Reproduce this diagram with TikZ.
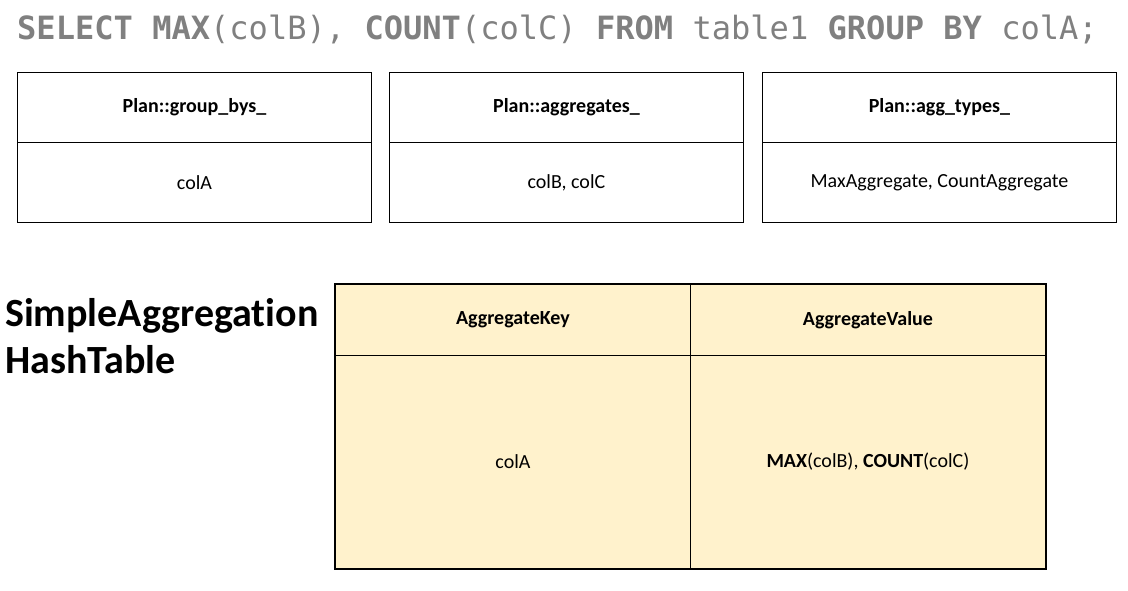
\documentclass[tikz,border=0pt]{standalone}
\usepackage{fontspec}
\setmainfont[Ligatures=NoCommon]{Carlito}
\newfontfamily\sqlfont{DejaVu Sans Mono}
\begin{document}
\begin{tikzpicture}[x=1pt,y=-1pt,
  cell/.style={draw=black,line width=0.9pt,minimum width=354pt,inner sep=0pt,anchor=north west},
  hcell/.style={fill=yellowfill,draw=black,line width=0.9pt,inner sep=0pt,anchor=north west},
  small/.style={font=\fontsize{20}{24}\selectfont},
  smallb/.style={font=\fontsize{20}{24}\selectfont\bfseries}]
\definecolor{sqlgray}{HTML}{808080}
\definecolor{yellowfill}{HTML}{FFF2CC}
\useasboundingbox (0,0) rectangle (1128,590);
\node[anchor=base west,inner sep=0pt,text=sqlgray,font=\fontsize{32.05}{38}\sqlfont] (sql) at (17,39)
  {\textbf{SELECT} \textbf{MAX}(colB), \textbf{COUNT}(colC) \textbf{FROM} table1 \textbf{GROUP} \textbf{BY} colA;};
% top boxes
\foreach \i/\x/\h/\b in {1/17/Plan::group\_bys\_/colA, 2/389/Plan::aggregates\_/colB{,} colC, 3/762/Plan::agg\_types\_/MaxAggregate{,} CountAggregate}{
  \node[cell,minimum height=70pt,smallb] (h\i) at (\x,72) {\h};
  \node[cell,minimum height=80pt,small] (b\i) at (\x,142) {\b};
}
% hash table
\node[hcell,minimum width=355pt,minimum height=71pt,smallb] (hk) at (335,284) {AggregateKey};
\node[hcell,minimum width=355pt,minimum height=71pt,smallb] (hv) at (690,284) {AggregateValue};
\node[hcell,minimum width=355pt,minimum height=213pt,small] (bk) at (335,355) {colA};
\node[hcell,minimum width=355pt,minimum height=213pt,small] (bv) at (690,355) {\textbf{MAX}(colB), \textbf{COUNT}(colC)};
\draw[line width=2.6pt] (hk.north west) rectangle (bv.south east);
\node[anchor=base west,inner sep=0pt,font=\fontsize{40}{47}\selectfont\bfseries,align=left] (title) at (5,373)
  {SimpleAggregation\\HashTable};
\end{tikzpicture}
\end{document}
